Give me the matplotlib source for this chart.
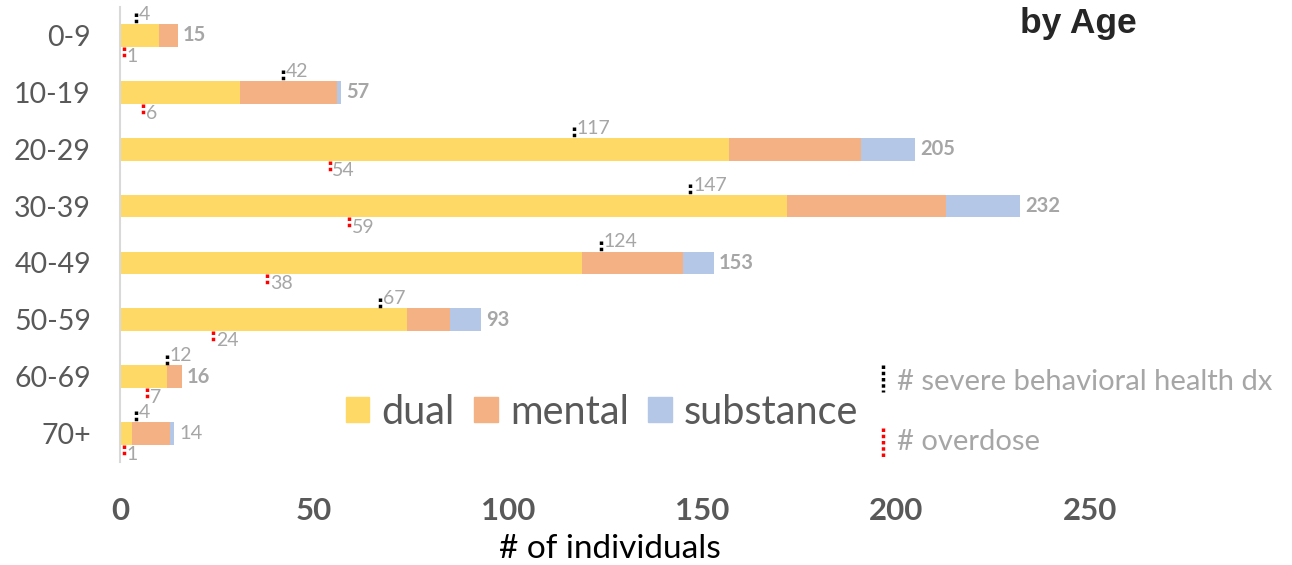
import numpy as np
import matplotlib
matplotlib.use('Agg')
from matplotlib import pyplot as plt
from matplotlib.lines import Line2D
from matplotlib.patches import Patch

# individuals per age group, split by diagnosis type
grupos = ['0-9', '10-19', '20-29', '30-39', '40-49', '50-59', '60-69', '70+']
dual = [10, 31, 157, 172, 119, 74, 12, 3]
mental = [5, 25, 34, 41, 26, 11, 4, 10]
substance = [0, 1, 14, 19, 8, 8, 0, 1]
totales = [15, 57, 205, 232, 153, 93, 16, 14]

# marcadores por grupo
severos = [4, 42, 117, 147, 124, 67, 12, 4]
sobredosis = [1, 6, 54, 59, 38, 24, 7, 1]

c_dual = '#FFD966'
c_mental = '#F4B183'
c_subst = '#B4C7E7'
gris = '#A6A6A6'
gris_osc = '#595959'
punteado = (0, (1, 0.8))

plt.rcParams['font.family'] = ['Lato', 'DejaVu Sans']

fig = plt.figure(figsize=(12.92, 5.65), dpi=100)
ax = fig.add_axes([120 / 1292, 103 / 565, 1164 / 1292, 455 / 565])

y = np.arange(len(grupos))
alto = 0.4

# =================== Barras apiladas
izq = np.zeros(len(grupos))
for vals, col, lab in [(dual, c_dual, 'dual'), (mental, c_mental, 'mental'), (substance, c_subst, 'substance')]:
    ax.barh(y, vals, left=izq, height=alto, color=col, label=lab)
    izq = izq + np.array(vals)

# totales al final de cada barra
for i, t in enumerate(totales):
    peso = 'normal' if grupos[i] == '70+' else 'bold'
    ax.annotate(str(t), (izq[i], y[i]), xytext=(3.5, 0), textcoords='offset points',
                va='center', ha='left', fontsize=14.5, color=gris, fontweight=peso)

# =================== Marcadores punteados
for i in range(len(grupos)):
    ax.plot([severos[i], severos[i]], [y[i] - alto / 2 - 0.19, y[i] - alto / 2],
            color='black', linestyle=punteado, linewidth=2.5)
    ax.annotate(str(severos[i]), (severos[i], y[i] - 0.37), xytext=(2, 0), textcoords='offset points',
                va='center', ha='left', fontsize=14, color=gris)
    ax.plot([sobredosis[i], sobredosis[i]], [y[i] + alto / 2, y[i] + alto / 2 + 0.19],
            color='red', linestyle=punteado, linewidth=2.5)
    ax.annotate(str(sobredosis[i]), (sobredosis[i], y[i] + 0.37), xytext=(2, 0), textcoords='offset points',
                va='center', ha='left', fontsize=14, color=gris)

ax.set_xlim(0, 300)
ax.set_ylim(len(grupos) - 0.5, -0.5)
ax.set_xticks([0, 50, 100, 150, 200, 250])
ax.set_yticks(y)
ax.set_yticklabels(grupos)
ax.tick_params(axis='y', length=0, pad=21, labelsize=20.5, labelcolor=gris_osc)
ax.tick_params(axis='x', length=0, pad=25, labelsize=22.5, labelcolor=gris_osc)
for lab in ax.get_xticklabels():
    lab.set_fontweight('bold')

for s in ['top', 'right', 'bottom']:
    ax.spines[s].set_visible(False)
ax.spines['left'].set_color('#D9D9D9')
ax.spines['left'].set_linewidth(1.5)

ax.set_xlabel('# of individuals', fontsize=24, color='black')
ax.xaxis.set_label_coords((610 - 120) / 1164, -0.158)

# =================== Leyenda
leg = fig.legend(handles=[Patch(color=c_dual, label='dual'), Patch(color=c_mental, label='mental'),
                          Patch(color=c_subst, label='substance')],
                 loc='center', bbox_to_anchor=(602 / 1292, 1 - 412 / 565), ncol=3, frameon=False,
                 fontsize=28.5, handlelength=0.6, handleheight=0.6, handletextpad=0.3, columnspacing=0.5,
                 borderpad=0, borderaxespad=0)
for t in leg.get_texts():
    t.set_color(gris_osc)

# referencia de marcadores
fig.add_artist(Line2D([883 / 1292, 883 / 1292], [1 - 365 / 565, 1 - 392 / 565], color='black',
                      linestyle=punteado, linewidth=2.5))
fig.text(897 / 1292, 1 - 382 / 565, '# severe behavioral health dx', fontsize=21, color=gris, va='center')
fig.add_artist(Line2D([883 / 1292, 883 / 1292], [1 - 428 / 565, 1 - 457 / 565], color='red',
                      linestyle=punteado, linewidth=2.5))
fig.text(897 / 1292, 1 - 442 / 565, '# overdose', fontsize=21, color=gris, va='center')

fig.text(1078 / 1292, 1 - 23 / 565, 'by Age', fontsize=25.5, fontweight='bold', color='#262626',
         ha='center', va='center', family='Liberation Sans')

plt.savefig('out.png', dpi=100)
